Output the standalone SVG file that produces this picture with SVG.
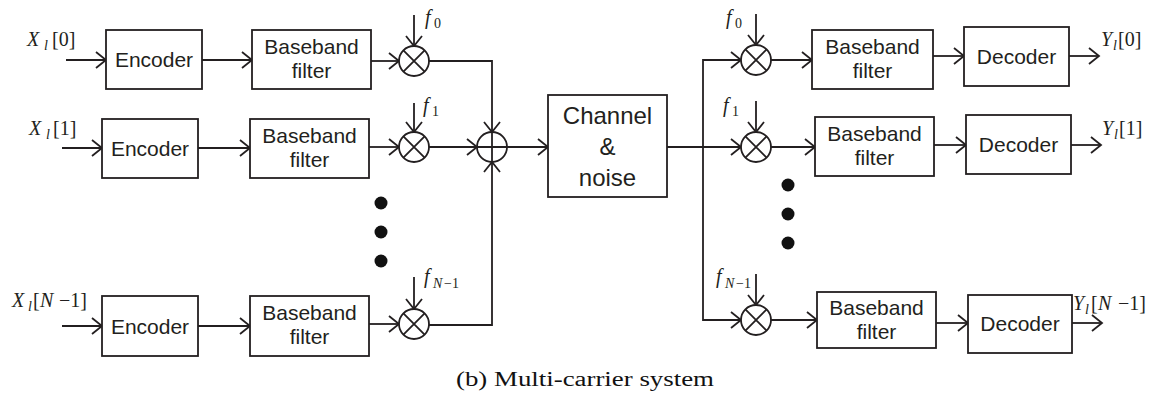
<svg xmlns="http://www.w3.org/2000/svg" width="1172" height="412" viewBox="0 0 1172 412">
<style>
.bx{fill:#fff;stroke:#231f20;stroke-width:1.8}
.ln{fill:none;stroke:#231f20;stroke-width:1.8}
.ar{fill:none;stroke:#231f20;stroke-width:1.8;marker-end:url(#ah)}
.t{font-family:"Liberation Sans",Arial,sans-serif;font-size:21px;fill:#231f20;text-anchor:middle}
.tc{font-family:"Liberation Sans",Arial,sans-serif;font-size:24px;fill:#231f20;text-anchor:middle}
.m{font-family:"Liberation Serif","Times New Roman",serif;font-size:20px;fill:#231f20}
.i{font-style:italic}
.s{font-size:14px}
.cap{font-family:"Liberation Serif","Times New Roman",serif;font-size:20px;fill:#111}
.dot{fill:#111}
</style>
<defs>
<marker id="ah" markerWidth="14" markerHeight="18" refX="11" refY="8" orient="auto" markerUnits="userSpaceOnUse" overflow="visible">
<path d="M1,0 L11,8 L1,16" fill="none" stroke="#231f20" stroke-width="1.8"/>
</marker>
<g id="mix">
<circle cx="0" cy="0" r="15" class="bx"/>
<path d="M-10.6,-10.6 L10.6,10.6 M-10.6,10.6 L10.6,-10.6" class="ln"/>
</g>
</defs>

<g id="connectors">
<path d="M66,60 H106" class="ar"/>
<path d="M202,60 H252" class="ar"/>
<path d="M371,61 H399" class="ar"/>
<path d="M414,15 V46" class="ar"/>
<path d="M62,148 H102" class="ar"/>
<path d="M198,148 H250" class="ar"/>
<path d="M369,147 H399" class="ar"/>
<path d="M414,103 V132" class="ar"/>
<path d="M62,326 H102" class="ar"/>
<path d="M198,326 H250" class="ar"/>
<path d="M369,324 H399" class="ar"/>
<path d="M414,277 V309" class="ar"/>
<path d="M429,61 H492 V132" class="ar"/>
<path d="M429,147 H477" class="ar"/>
<path d="M429,325 H492 V162" class="ar"/>
<path d="M507,147 H548" class="ar"/>
<path d="M667,147 H741" class="ar"/>
<path d="M703,147 V60 H741" class="ar"/>
<path d="M703,147 V320 H741" class="ar"/>
<path d="M756,14 V45" class="ar"/>
<path d="M756,101 V132" class="ar"/>
<path d="M756,274 V305" class="ar"/>
<path d="M771,60 H812" class="ar"/>
<path d="M771,147 H815" class="ar"/>
<path d="M771,320 H817" class="ar"/>
<path d="M933,56 H964" class="ar"/>
<path d="M934,145 H966" class="ar"/>
<path d="M936,323 H968" class="ar"/>
<path d="M1069,56 H1099" class="ar"/>
<path d="M1071,145 H1101" class="ar"/>
<path d="M1072,323 H1102" class="ar"/>
</g>

<g id="enc0"><rect x="106" y="30" width="96" height="59" class="bx"/><text x="154" y="67" class="t">Encoder</text></g>
<g id="bb0"><rect x="252" y="30" width="119" height="59" class="bx"/><text x="311.5" y="54" class="t">Baseband</text><text x="311.5" y="78" class="t">filter</text></g>
<g id="mix0"><use href="#mix" x="414" y="61"/></g>
<g id="enc1"><rect x="102" y="119" width="96" height="59" class="bx"/><text x="150" y="156" class="t">Encoder</text></g>
<g id="bb1"><rect x="250" y="119" width="119" height="59" class="bx"/><text x="309.5" y="143" class="t">Baseband</text><text x="309.5" y="167" class="t">filter</text></g>
<g id="mix1"><use href="#mix" x="414" y="147"/></g>
<g id="encN"><rect x="102" y="296" width="96" height="60" class="bx"/><text x="150" y="334" class="t">Encoder</text></g>
<g id="bbN"><rect x="250" y="296" width="119" height="60" class="bx"/><text x="309.5" y="320" class="t">Baseband</text><text x="309.5" y="344" class="t">filter</text></g>
<g id="mixN"><use href="#mix" x="414" y="324"/></g>
<g id="sum"><circle cx="492" cy="147" r="15" class="bx"/><path d="M477,147 H507 M492,132 V162" class="ln"/></g>
<g id="dotsL"><circle cx="381" cy="203" r="6.5" class="dot"/><circle cx="381" cy="232" r="6.5" class="dot"/><circle cx="381" cy="261" r="6.5" class="dot"/></g>

<g id="channel"><rect x="548" y="95" width="119" height="102" class="bx"/><text x="607.5" y="124" class="tc">Channel</text><text x="607.5" y="155" class="tc">&amp;</text><text x="607.5" y="186" class="tc">noise</text></g>

<g id="rmix0"><use href="#mix" x="756" y="60"/></g>
<g id="rbb0"><rect x="812" y="30" width="121" height="59" class="bx"/><text x="872.5" y="54" class="t">Baseband</text><text x="872.5" y="78" class="t">filter</text></g>
<g id="dec0"><rect x="964" y="27" width="105" height="59" class="bx"/><text x="1016.5" y="64" class="t">Decoder</text></g>
<g id="rmix1"><use href="#mix" x="756" y="147"/></g>
<g id="rbb1"><rect x="815" y="117" width="119" height="59" class="bx"/><text x="874.5" y="141" class="t">Baseband</text><text x="874.5" y="165" class="t">filter</text></g>
<g id="dec1"><rect x="966" y="115" width="105" height="59" class="bx"/><text x="1018.5" y="152" class="t">Decoder</text></g>
<g id="rmixN"><use href="#mix" x="756" y="320"/></g>
<g id="rbbN"><rect x="817" y="292" width="119" height="56" class="bx"/><text x="876.5" y="315" class="t">Baseband</text><text x="876.5" y="339" class="t">filter</text></g>
<g id="decN"><rect x="968" y="295" width="104" height="58" class="bx"/><text x="1020" y="331" class="t">Decoder</text></g>
<g id="dotsR"><circle cx="788" cy="185" r="6.5" class="dot"/><circle cx="788" cy="214" r="6.5" class="dot"/><circle cx="788" cy="243" r="6.5" class="dot"/></g>

<g id="labels">
<text class="m"><tspan x="27" y="46" class="i">X</tspan><tspan x="44" y="50" class="i s">l</tspan><tspan x="52" y="46">[0]</tspan></text>
<text class="m"><tspan x="29" y="135" class="i">X</tspan><tspan x="46" y="139" class="i s">l</tspan><tspan x="53" y="135">[1]</tspan></text>
<text class="m"><tspan x="12" y="307" class="i">X</tspan><tspan x="28" y="311" class="i s">l</tspan><tspan x="33" y="307">[</tspan><tspan x="40" y="307" class="i">N</tspan><tspan x="59" y="307">−1]</tspan></text>
<text class="m"><tspan x="1101" y="46" class="i">Y</tspan><tspan x="1113" y="50" class="i s">l</tspan><tspan x="1118" y="46">[0]</tspan></text>
<text class="m"><tspan x="1102" y="135" class="i">Y</tspan><tspan x="1114" y="139" class="i s">l</tspan><tspan x="1119" y="135">[1]</tspan></text>
<text class="m"><tspan x="1073" y="310" class="i">Y</tspan><tspan x="1085" y="314" class="i s">l</tspan><tspan x="1091" y="310">[</tspan><tspan x="1098" y="310" class="i">N</tspan><tspan x="1118" y="310">−1]</tspan></text>
<text class="m"><tspan x="425" y="24" class="i">f</tspan><tspan x="434" y="28" class="s">0</tspan></text>
<text class="m"><tspan x="423" y="112" class="i">f</tspan><tspan x="432" y="116" class="s">1</tspan></text>
<text class="m"><tspan x="424" y="283" class="i">f</tspan><tspan x="433" y="288" class="i s">N</tspan><tspan x="444" y="288" class="s">−1</tspan></text>
<text class="m"><tspan x="726" y="24" class="i">f</tspan><tspan x="735" y="28" class="s">0</tspan></text>
<text class="m"><tspan x="723" y="112" class="i">f</tspan><tspan x="732" y="116" class="s">1</tspan></text>
<text class="m"><tspan x="716" y="283" class="i">f</tspan><tspan x="725" y="288" class="i s">N</tspan><tspan x="736" y="288" class="s">−1</tspan></text>
</g>

<text x="456" y="386" class="cap" textLength="258" lengthAdjust="spacingAndGlyphs">(b) Multi-carrier system</text>
</svg>
